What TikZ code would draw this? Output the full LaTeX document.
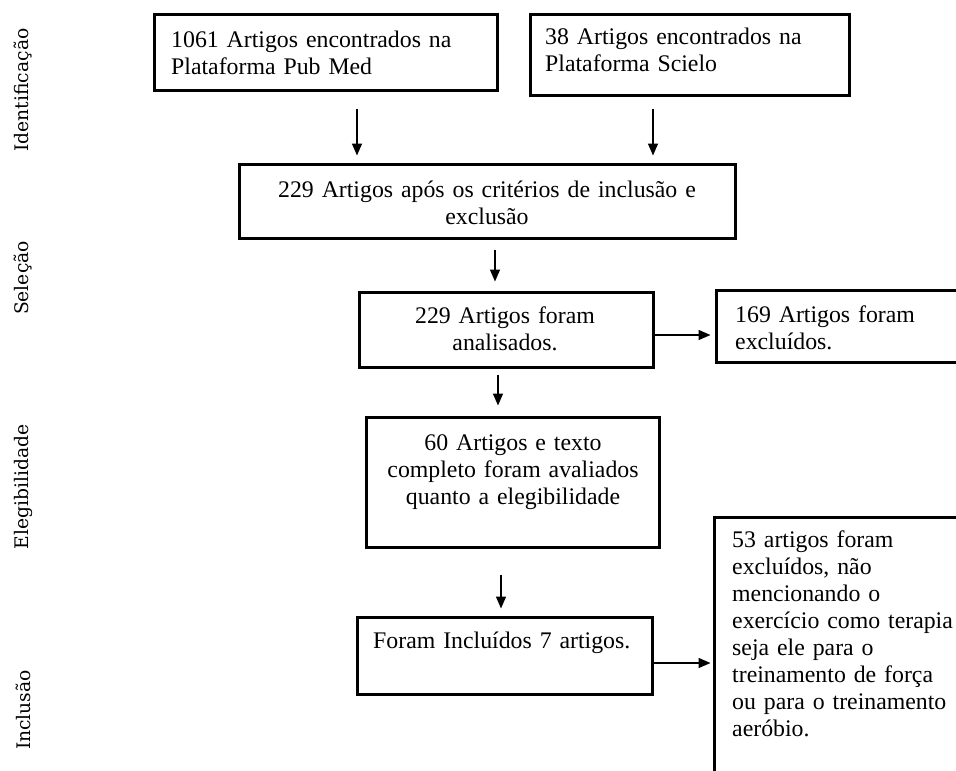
\documentclass[tikz,border=0pt]{standalone}
\usepackage{fontspec}
\setmainfont{Liberation Serif}
\newfontfamily\sidefont{DejaVu Serif}
\usetikzlibrary{arrows.meta}
\begin{document}
\begin{tikzpicture}[x=1pt,y=-1pt,
  box/.style={draw, line width=3pt, inner sep=0pt},
  txt/.style={font=\fontsize{23.8}{27}\selectfont, inner sep=0pt},
  side/.style={font=\sidefont\fontsize{18.7}{22}\selectfont, rotate=90, inner sep=0pt},
  arr/.style={line width=1.4pt, -{Triangle[length=12pt,width=10pt]}}]
\useasboundingbox (0,0) rectangle (956,771);
\fill[white] (0,0) rectangle (956,771);

% side labels
\node[side] (l1) at (23,90) {Identificação};
\node[side] (l2) at (23,278) {Seleção};
\node[side] (l3) at (23,487) {Elegibilidade};
\node[side] (l4) at (23,710) {Inclusão};

% boxes
\node[box, minimum width=343pt, minimum height=76pt] (b1) at (325.5,52) {};
\node[box, minimum width=319pt, minimum height=81pt] (b2) at (689.5,54.5) {};
\node[box, minimum width=496pt, minimum height=74pt] (b3) at (487,201) {};
\node[box, minimum width=294pt, minimum height=75pt] (b4) at (506,329.5) {};
\node[box, minimum width=254pt, minimum height=72pt] (b5) at (843,326) {};
\node[box, minimum width=293pt, minimum height=130pt] (b6) at (512.5,482) {};
\node[box, minimum width=295pt, minimum height=77pt] (b7) at (504.5,655.5) {};
\node[box, minimum width=256pt, minimum height=283pt] (b8) at (842,658.5) {};

% texts
\node[txt, anchor=base west, text width=320pt, align=left] (t1) at (171,47)
  {1061 Artigos encontrados na\\Plataforma Pub Med};
\node[txt, anchor=base west, text width=300pt, align=left] (t2) at (545,44)
  {38 Artigos encontrados na\\Plataforma Scielo};
\node[txt, anchor=base, text width=480pt, align=center] (t3) at (487,197)
  {229 Artigos após os critérios de inclusão e\\exclusão};
\node[txt, anchor=base, text width=280pt, align=center] (t4) at (505,323)
  {229 Artigos foram\\analisados.};
\node[txt, anchor=base west, text width=215pt, align=left] (t5) at (735,322)
  {169 Artigos foram\\excluídos.};
\node[txt, anchor=base, text width=280pt, align=center] (t6) at (513,450)
  {60 Artigos e texto\\completo foram avaliados\\quanto a elegibilidade};
\node[txt, anchor=base west, text width=275pt, align=left] (t7) at (373,648)
  {Foram Incluídos 7 artigos.};
\node[txt, anchor=base west, text width=222pt, align=left] (t8) at (732,547)
  {53 artigos foram\\excluídos, não\\mencionando o\\exercício como terapia\\seja ele para o\\treinamento de força\\ou para o treinamento\\aeróbio.};

% arrows
\draw[arr, shorten <=17pt, shorten >=7pt] (b1.south -| 357,0) -- (b3.north -| 357,0);
\draw[arr, shorten <=12pt, shorten >=7pt] (b2.south -| 653,0) -- (b3.north -| 653,0);
\draw[arr, shorten <=10pt, shorten >=9pt] (b3.south -| 495,0) -- (b4.north -| 495,0);
\draw[arr, shorten <=6pt, shorten >=10pt] (b4.south -| 498,0) -- (b6.north -| 498,0);
\draw[arr, shorten <=26pt, shorten >=7pt] (b6.south -| 501,0) -- (b7.north -| 501,0);
\draw[arr, shorten >=4pt] (b4.east |- 0,335) -- (b5.west |- 0,335);
\draw[arr, shorten >=2pt] (b7.east |- 0,663) -- (b8.west |- 0,663);
\end{tikzpicture}
\end{document}
